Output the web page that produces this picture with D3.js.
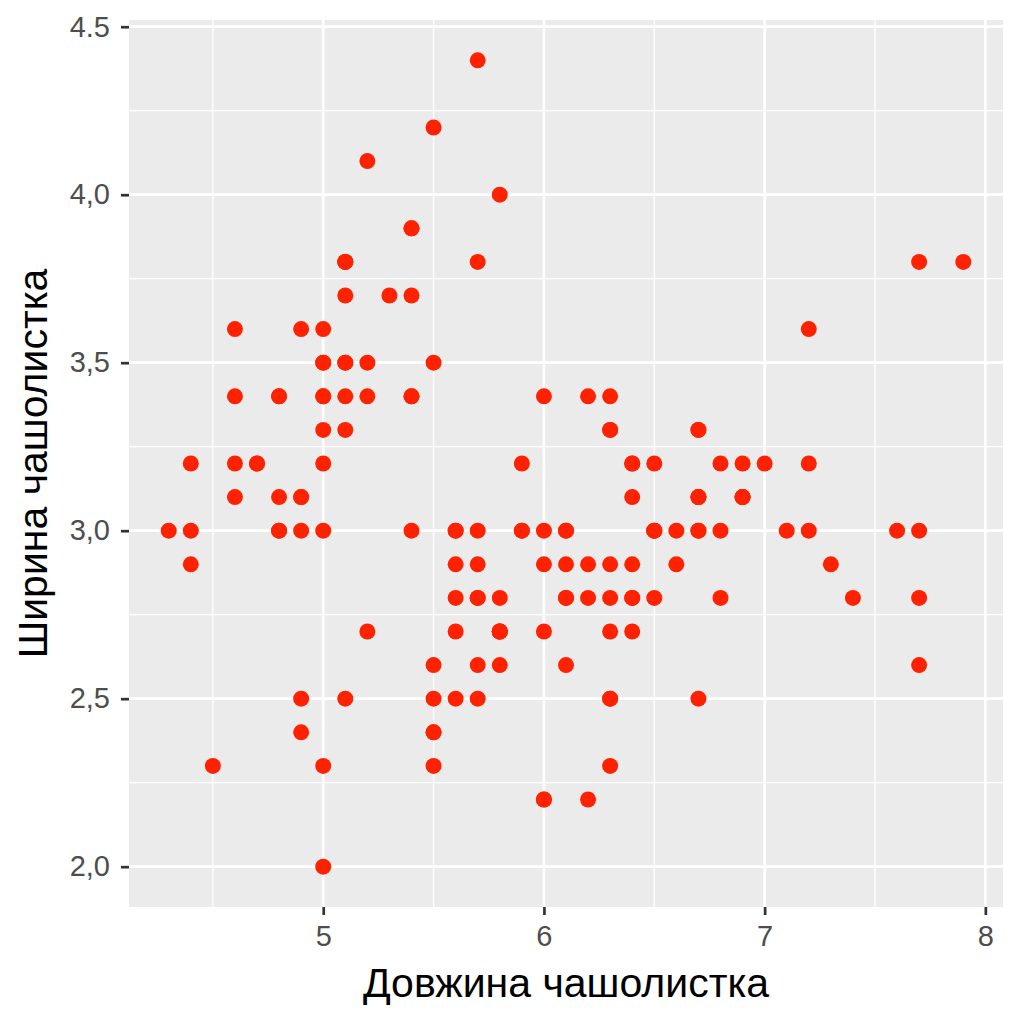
<!DOCTYPE html>
<html><head><meta charset="utf-8">
<script src="https://cdn.jsdelivr.net/npm/d3@7"></script>
<style>body{margin:0;background:#fff}</style>
</head><body>
<svg id="c" width="1024" height="1024"></svg>
<script>
const sepalLength = [5.1,4.9,4.7,4.6,5.0,5.4,4.6,5.0,4.4,4.9,5.4,4.8,4.8,4.3,5.8,5.7,5.4,5.1,5.7,5.1,5.4,5.1,4.6,5.1,4.8,5.0,5.0,5.2,5.2,4.7,4.8,5.4,5.2,5.5,4.9,5.0,5.5,4.9,4.4,5.1,5.0,4.5,4.4,5.0,5.1,4.8,5.1,4.6,5.3,5.0,
7.0,6.4,6.9,5.5,6.5,5.7,6.3,4.9,6.6,5.2,5.0,5.9,6.0,6.1,5.6,6.7,5.6,5.8,6.2,5.6,5.9,6.1,6.3,6.1,6.4,6.6,6.8,6.7,6.0,5.7,5.5,5.5,5.8,6.0,5.4,6.0,6.7,6.3,5.6,5.5,5.5,6.1,5.8,5.0,5.6,5.7,5.7,6.2,5.1,5.7,
6.3,5.8,7.1,6.3,6.5,7.6,4.9,7.3,6.7,7.2,6.5,6.4,6.8,5.7,5.8,6.4,6.5,7.7,7.7,6.0,6.9,5.6,7.7,6.3,6.7,7.2,6.2,6.1,6.4,7.2,7.4,7.9,6.4,6.3,6.1,7.7,6.3,6.4,6.0,6.9,6.7,6.9,5.8,6.8,6.7,6.7,6.3,6.5,6.2,5.9];
const sepalWidth = [3.5,3.0,3.2,3.1,3.6,3.9,3.4,3.4,2.9,3.1,3.7,3.4,3.0,3.0,4.0,4.4,3.9,3.5,3.8,3.8,3.4,3.7,3.6,3.3,3.4,3.0,3.4,3.5,3.4,3.2,3.1,3.4,4.1,4.2,3.1,3.2,3.5,3.6,3.0,3.4,3.5,2.3,3.2,3.5,3.8,3.0,3.8,3.2,3.7,3.3,
3.2,3.2,3.1,2.3,2.8,2.8,3.3,2.4,2.9,2.7,2.0,3.0,2.2,2.9,2.9,3.1,3.0,2.7,2.2,2.5,3.2,2.8,2.5,2.8,2.9,3.0,2.8,3.0,2.9,2.6,2.4,2.4,2.7,2.7,3.0,3.4,3.1,2.3,3.0,2.5,2.6,3.0,2.6,2.3,2.7,3.0,2.9,2.9,2.5,2.8,
3.3,2.7,3.0,2.9,3.0,3.0,2.5,2.9,2.5,3.6,3.2,2.7,3.0,2.5,2.8,3.2,3.0,3.8,2.6,2.2,3.2,2.8,2.8,2.7,3.3,3.2,2.8,3.0,2.8,3.0,2.8,3.8,2.8,2.8,2.6,3.0,3.4,3.1,3.0,3.1,3.1,3.1,2.7,3.2,3.3,3.0,2.5,3.0,3.4,3.0];
const xTicks = [5,6,7,8];
const xMinor = [4.5,5.5,6.5,7.5];
const yTicks = [2.0,2.5,3.0,3.5,4.0,4.5];
const yTickLabels = ["2,0","2,5","3,0","3,5","4,0","4.5"];
const yMinor = [2.25,2.75,3.25,3.75,4.25];
const xTitle = "Довжина чашолистка";
const yTitle = "Ширина чашолистка";

const FONT = "Liberation Sans, Arial, sans-serif";
const L=129, R=1003, T=20, B=907;
const svg = d3.select("#c");
const x = d3.scaleLinear().domain([4.12,8.08]).range([L,R]);
const y = d3.scaleLinear().domain([1.88,4.52]).range([B,T]);

svg.append("rect").attr("x",L).attr("y",T).attr("width",R-L).attr("height",B-T).attr("fill","#EBEBEB");
const g = svg.append("g");
g.selectAll(".xm").data(xMinor).join("line").attr("x1",d=>x(d)).attr("x2",d=>x(d)).attr("y1",T).attr("y2",B).attr("stroke","#fff").attr("stroke-width",1.3);
g.selectAll(".ym").data(yMinor).join("line").attr("y1",d=>y(d)).attr("y2",d=>y(d)).attr("x1",L).attr("x2",R).attr("stroke","#fff").attr("stroke-width",1.3);
g.selectAll(".xM").data(xTicks).join("line").attr("x1",d=>x(d)).attr("x2",d=>x(d)).attr("y1",T).attr("y2",B).attr("stroke","#fff").attr("stroke-width",2.7);
g.selectAll(".yM").data(yTicks).join("line").attr("y1",d=>y(d)).attr("y2",d=>y(d)).attr("x1",L).attr("x2",R).attr("stroke","#fff").attr("stroke-width",2.7);

const xa = svg.append("g").attr("transform",`translate(0,${B})`)
  .call(d3.axisBottom(x).tickValues(xTicks).tickSize(8).tickPadding(10).tickFormat(d3.format("d")));
xa.select(".domain").remove();
xa.selectAll("line").attr("stroke","#333").attr("stroke-width",2.7);
xa.selectAll("text").attr("fill","#4D4D4D").attr("font-size",29).attr("font-family",FONT);

const ya = svg.append("g").attr("transform",`translate(${L},0)`)
  .call(d3.axisLeft(y).tickValues(yTicks).tickSize(8).tickPadding(11).tickFormat((d,i)=>yTickLabels[i]));
ya.select(".domain").remove();
ya.selectAll("line").attr("stroke","#333").attr("stroke-width",2.7);
ya.selectAll("text").attr("fill","#4D4D4D").attr("font-size",29).attr("font-family",FONT);

const idx = d3.range(sepalLength.length);
svg.append("g").selectAll("circle").data(idx).join("circle")
  .attr("cx",i=>x(sepalLength[i])).attr("cy",i=>y(sepalWidth[i])).attr("r",8)
  .attr("fill","#FF2200");

svg.append("text").attr("x",(L+R)/2).attr("y",997).attr("text-anchor","middle")
  .attr("font-size",41).attr("font-family",FONT).attr("fill","#000").text(xTitle);
svg.append("text").attr("transform",`translate(47,${(T+B)/2}) rotate(-90)`).attr("text-anchor","middle")
  .attr("font-size",41).attr("font-family",FONT).attr("fill","#000").text(yTitle);
</script>
</body></html>
